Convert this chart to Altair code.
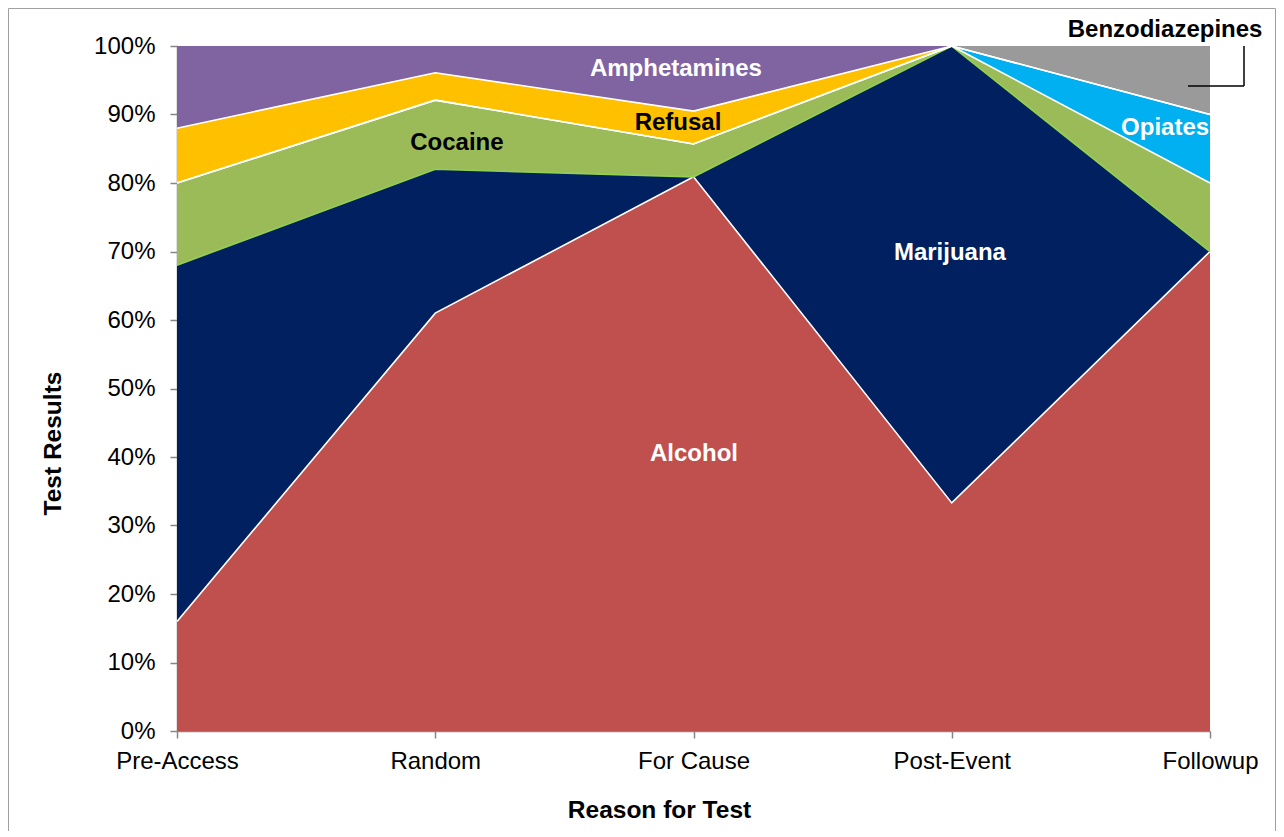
import json
import altair as alt
import pandas as pd

# ---- data ----
categories = ["Pre-Access", "Random", "For Cause", "Post-Event", "Followup"]
series = ["Alcohol", "Marijuana", "Cocaine", "Opiates", "Refusal", "Amphetamines", "Benzodiazepines"]
alcohol = [16.0, 61.0, 80.9, 33.3, 70.0]
marijuana = [52.0, 21.0, 0.0, 66.7, 0.0]
cocaine = [12.0, 10.1, 4.8, 0.0, 10.0]
opiates = [0.0, 0.0, 0.0, 0.0, 10.0]
refusal = [8.0, 4.0, 4.8, 0.0, 0.0]
amphetamines = [12.0, 3.9, 9.5, 0.0, 0.0]
benzodiazepines = [0.0, 0.0, 0.0, 0.0, 10.0]
series_values = [alcohol, marijuana, cocaine, opiates, refusal, amphetamines, benzodiazepines]
fill_colors = ["#C0504D", "#002060", "#9BBB59", "#00B0F0", "#FFC000", "#8064A2", "#9A9A9A"]

# boundary lines drawn on top of these series
edge_series = ["Alcohol", "Marijuana", "Cocaine", "Opiates", "Refusal"]
edge_colors = ["#FFFFFF", "#92D050", "#FFFFFF", "#FFFFFF", "#FFFFFF"]

# annotation labels (in data units)
label_text = ["Amphetamines", "Refusal", "Cocaine", "Marijuana", "Alcohol", "Opiates", "Benzodiazepines"]
label_x = [1.932, 1.94, 1.084, 2.993, 2.002, 3.826, 3.826]
label_y = [96.6, 88.8, 85.8, 69.8, 40.4, 88.0, 102.4]
label_color = ["white", "black", "black", "white", "white", "white", "black"]

rows = []
for s_i, (name, vals) in enumerate(zip(series, series_values)):
    for c_i, v in enumerate(vals):
        rows.append({"series": name, "order": s_i, "x": c_i, "value": v})
df = pd.DataFrame(rows)

labels_df = pd.DataFrame({"text": label_text, "x": label_x, "y": label_y, "c": label_color})

FONT = "Liberation Sans"
AX = "#868686"

x_label_expr = json.dumps(categories) + "[datum.value]"

xaxis = alt.Axis(
    values=list(range(len(categories))), labelExpr=x_label_expr, title="Reason for Test",
    grid=False, domainColor=AX, tickColor=AX, tickSize=7, domainWidth=1.5, tickWidth=1.5,
    labelFontSize=24, labelColor="black", labelPadding=11, labelFlush=False, labelOverlap=False,
    titleFontSize=24.5, titleFontWeight="bold", titleColor="black",
    titleX=482, titleY=79, titleAlign="center", titleBaseline="middle",
)
yaxis = alt.Axis(
    values=list(range(0, 101, 10)), labelExpr="datum.value + '%'", title="Test Results",
    grid=False, domainColor=AX, tickColor=AX, tickSize=7, domainWidth=1.5, tickWidth=1.5,
    labelFontSize=24, labelColor="black", labelPadding=15,
    titleFontSize=24.5, titleFontWeight="bold", titleColor="black",
    titleX=-124, titleY=397, titleAlign="center", titleBaseline="middle",
)

xenc = alt.X("x:Q", scale=alt.Scale(domain=[0, 4], nice=False, zero=False), axis=xaxis)

base = alt.Chart(df).transform_stack(
    stack="value", groupby=["x"], as_=["y0", "y1"],
    sort=[alt.SortField("order", order="ascending")],
)

areas = base.mark_area(opacity=1, interpolate="linear").encode(
    x=xenc,
    y=alt.Y("y1:Q", scale=alt.Scale(domain=[0, 100], nice=False), axis=yaxis),
    y2="y0:Q",
    color=alt.Color("series:N", scale=alt.Scale(domain=series, range=fill_colors), legend=None),
)

edges = base.transform_filter(
    alt.FieldOneOfPredicate(field="series", oneOf=edge_series)
).mark_line(strokeWidth=1.6).encode(
    x=alt.X("x:Q"),
    y=alt.Y("y1:Q"),
    detail="series:N",
    stroke=alt.Stroke("series:N", scale=alt.Scale(domain=edge_series, range=edge_colors), legend=None),
    order=alt.Order("x:Q"),
)

texts = alt.Chart(labels_df).mark_text(
    font=FONT, fontSize=24, fontWeight="bold", align="center", baseline="middle"
).encode(
    x=alt.X("x:Q"),
    y=alt.Y("y:Q"),
    text="text:N",
    color=alt.Color("c:N", scale=None),
)

one = pd.DataFrame({"a": [0]})
callout_v = alt.Chart(one).mark_rule(color="black", strokeWidth=1.5).encode(
    x=alt.value(1067), y=alt.value(0), y2=alt.value(40)
)
callout_h = alt.Chart(one).mark_rule(color="black", strokeWidth=1.5).encode(
    x=alt.value(1011), x2=alt.value(1067), y=alt.value(40)
)
border = alt.Chart(one).mark_rect(fillOpacity=0, stroke="#A0A0A0", strokeWidth=1).encode(
    x=alt.value(-168.5), x2=alt.value(1098.5), y=alt.value(-37.5), y2=alt.value(900)
)

chart = alt.layer(border, areas, edges, texts, callout_v, callout_h).properties(
    width=1033, height=685,
    padding={"left": 169, "top": 38, "right": 66, "bottom": 100},
    autosize=alt.AutoSizeParams(type="none"),
).configure(font=FONT).configure_view(strokeWidth=0)

chart.save("out.html", embed_options={"renderer": "svg", "actions": False})
